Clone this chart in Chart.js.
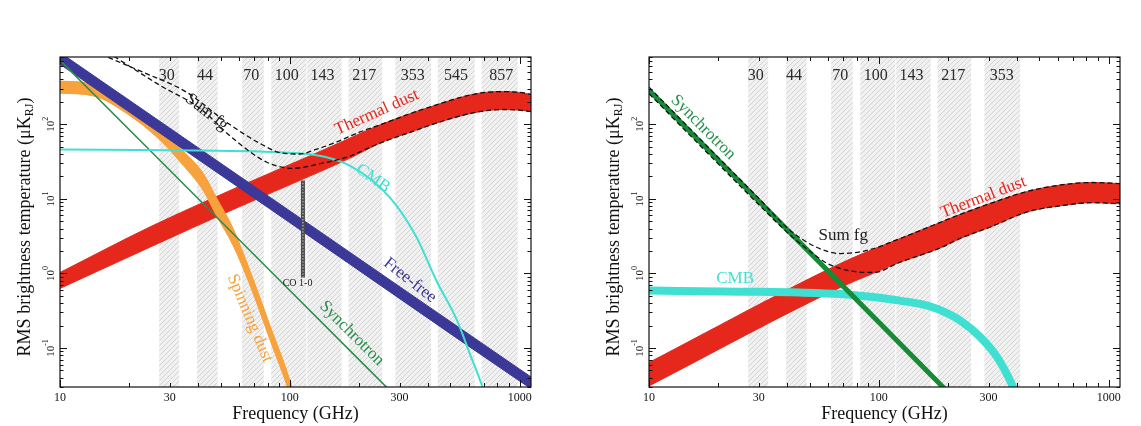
<!DOCTYPE html>
<html>
<head>
<meta charset="utf-8">
<script src="https://cdn.jsdelivr.net/npm/chart.js@4.4.1/dist/chart.umd.min.js"></script>
<style>
  html, body { margin: 0; padding: 0; background: #fff; }
  #wrap { position: relative; width: 1141px; height: 426px; }
  #tempChart { position: absolute; left: 0; top: 0; }
  #polChart { position: absolute; left: 570px; top: 0; }
</style>
</head>
<body>
<div id="wrap">
  <canvas id="tempChart" width="570" height="426"></canvas>
  <canvas id="polChart" width="571" height="426"></canvas>
</div>
<script>
// Planck foreground RMS spectra: temperature (left) and polarisation (right)

// axes
const xTickVals = [10, 30, 100, 300, 1000];
const yTickExps = [2, 1, 0, -1];

// Planck frequency bands (GHz)
const bandNames = ['30', '44', '70', '100', '143', '217', '353', '545', '857'];
const bandFreq = [30, 44, 70, 100, 143, 217, 353, 545, 857];
const bandLo = [27, 39.5, 62, 83, 119, 180, 288, 440, 683];
const bandHi = [33, 48.5, 77, 118, 168, 252, 412, 637, 980];

// ---- temperature panel ----
const dustFreqT = [10, 24.6, 56.6, 130, 182, 250, 353, 406, 500, 670, 850, 1000, 1120];
const dustHiT = [1.03, 4.2, 13.5, 41, 65, 100, 148, 170, 210, 262, 275, 268, 252];
const dustLoT = [0.63, 2.25, 7.2, 22, 35, 57, 83, 97, 119, 148, 158, 155, 148];

const ffFreqT = [10, 100, 1000, 1120];
const ffHiT = [920, 6.9, 0.052, 0.041];
const ffLoT = [640, 4.8, 0.036, 0.0285];

const spinFreqT = [10, 14, 19.5, 27, 34.4, 42, 48, 56.7, 67, 82, 100, 106];
const spinHiT = [380, 350, 202, 91, 44, 22, 10.3, 4.0, 1.1, 0.2, 0.037, 0.019];
const spinLoT = [262, 240, 140, 63, 28, 12.9, 5.9, 2.35, 0.7, 0.128, 0.0235, 0.012];

const syncFreqT = [10, 100, 300];
const syncT = [723, 0.59, 0.02];

const cmbFreqT = [10, 40, 110, 182, 272, 353, 436, 532, 606, 690, 720];
const cmbT = [46, 44.6, 40.8, 28, 10.5, 3.2, 0.78, 0.24, 0.085, 0.0295, 0.019];

const sumHiFreqT = [13, 15.4, 23, 35.6, 53.2, 74, 93, 110, 130, 160, 200, 250, 353, 406, 500, 670, 850, 1000, 1120];
const sumHiT = [1050, 844, 499, 269, 106, 55.6, 41, 40, 46, 58, 78, 100, 148, 170, 210, 262, 275, 268, 252];
const sumLoFreqT = [15, 17.7, 27.2, 40.6, 56.5, 79.4, 103, 131, 180, 250, 353, 406, 500, 670, 850, 1000, 1120];
const sumLoT = [1060, 769, 334, 164, 65, 31, 25.7, 29, 37, 57, 83, 97, 119, 148, 158, 155, 148];

const coFreq = [114, 114];
const coT = [17.7, 0.88];

// ---- polarisation panel ----
const dustFreqP = [10, 68, 92, 124, 185, 226, 306, 443, 620, 850, 1128];
const dustHiP = [0.064, 1.36, 2.04, 2.95, 4.84, 6.2, 8.7, 12.6, 15.4, 16.6, 16.0];
const dustLoP = [0.031, 0.65, 0.97, 1.42, 2.2, 2.95, 4.2, 6.7, 8.1, 8.9, 8.6];

const syncFreqP = [10, 100, 300];
const syncP = [286, 0.222, 0.0072];

const cmbFreqP = [10, 25, 45, 68, 90, 112, 163, 200, 226, 277, 328, 382, 420];
const cmbP = [0.59, 0.57, 0.555, 0.53, 0.49, 0.45, 0.37, 0.29, 0.234, 0.139, 0.0744, 0.031, 0.015];

const sumHiFreqP = [10, 20, 30, 41.1, 53.9, 67.9, 89, 124, 185, 226, 306, 443, 620, 850, 1128];
const sumHiP = [315, 36, 10.2, 3.78, 2.23, 1.85, 2.04, 2.95, 4.84, 6.2, 8.7, 12.6, 15.4, 16.6, 16.0];
const sumLoFreqP = [10, 20, 30, 41, 50, 59.7, 73, 94.7, 124, 185, 226, 306, 443, 620, 850, 1128];
const sumLoP = [258, 29.5, 8.4, 3.3, 2.0, 1.36, 1.1, 1.03, 1.42, 2.2, 2.95, 4.2, 6.7, 8.1, 8.9, 8.6];

const RED = '#e5271c', NAVY = '#3b3898', ORANGE = '#f7a23c', CYAN = '#3fe0d2', GREEN = '#2a8f4f', DKGREEN = '#178a38';
const SERIF = '"Liberation Serif", "DejaVu Serif", serif';

const pts = (fs, ts) => fs.map((f, i) => ({ x: f, y: ts[i] }));
function line(fs, ts, color, width, order, extra) {
  return Object.assign({
    data: pts(fs, ts), borderColor: color, borderWidth: width, pointRadius: 0,
    fill: false, cubicInterpolationMode: 'monotone', order,
  }, extra || {});
}
function band(fs, hi, lo, color, order) {
  return [
    line(fs, hi, color, 1, order),
    line(fs, lo, color, 1, order, { fill: '-1', backgroundColor: color }),
  ];
}
const dashed = { borderDash: [5, 3] };

let hatch = null;
function getHatch(ctx) {
  if (hatch) return hatch;
  const c = document.createElement('canvas');
  c.width = c.height = 5;
  const g = c.getContext('2d');
  g.fillStyle = '#f1f1f1'; g.fillRect(0, 0, 5, 5);
  g.strokeStyle = '#d4d4d4'; g.lineWidth = 1;
  g.beginPath();
  g.moveTo(0, 5); g.lineTo(5, 0);
  g.moveTo(-1, 1); g.lineTo(1, -1);
  g.moveTo(4, 6); g.lineTo(6, 4);
  g.stroke();
  hatch = ctx.createPattern(c, 'repeat');
  return hatch;
}

function drawRotated(ctx, text, px, py, deg, color, size) {
  ctx.save();
  ctx.translate(px, py);
  ctx.rotate(deg * Math.PI / 180);
  ctx.fillStyle = color;
  ctx.font = size + 'px ' + SERIF;
  ctx.textAlign = 'center';
  ctx.textBaseline = 'middle';
  ctx.fillText(text, 0, 0);
  ctx.restore();
}

function makeDecor(nBands, labels) {
  return {
    id: 'decor',
    beforeDatasetsDraw(chart) {
      const { ctx, chartArea: a, scales: { x } } = chart;
      ctx.save();
      ctx.beginPath(); ctx.rect(a.left, a.top, a.right - a.left, a.bottom - a.top); ctx.clip();
      ctx.fillStyle = getHatch(ctx);
      for (let i = 0; i < nBands; i++) {
        const x0 = x.getPixelForValue(bandLo[i]), x1 = x.getPixelForValue(bandHi[i]);
        ctx.fillRect(x0, a.top, x1 - x0, a.bottom - a.top);
      }
      ctx.fillStyle = '#2a2a2a';
      ctx.font = '16px ' + SERIF;
      ctx.textAlign = 'center';
      ctx.textBaseline = 'middle';
      for (let i = 0; i < nBands; i++) {
        ctx.fillText(bandNames[i], x.getPixelForValue(bandFreq[i]) - 3, a.top + 19);
      }
      ctx.restore();
    },
    afterDraw(chart) {
      const { ctx, chartArea: a, scales: { x, y } } = chart;
      ctx.save();
      // curve labels
      labels.forEach(l => drawRotated(ctx, l.text, x.getPixelForValue(l.f), y.getPixelForValue(l.t), l.rot, l.color, l.size || 17));

      // frame and inward ticks
      ctx.strokeStyle = '#111';
      ctx.lineWidth = 1.2;
      ctx.strokeRect(a.left, a.top, a.right - a.left, a.bottom - a.top);
      ctx.lineWidth = 1;
      ctx.beginPath();
      for (let d = 10; d <= 1000; d *= 10) {
        for (let m = 1; m <= 9; m++) {
          const v = d * m;
          if (v > 1120) break;
          const px = Math.round(x.getPixelForValue(v)) + 0.5;
          const len = m === 1 ? 7 : 4;
          ctx.moveTo(px, a.bottom); ctx.lineTo(px, a.bottom - len);
          ctx.moveTo(px, a.top); ctx.lineTo(px, a.top + len);
        }
      }
      for (let d = 0.01; d <= 100; d *= 10) {
        for (let m = 1; m <= 9; m++) {
          const v = d * m;
          if (v < 0.03 || v > 800) continue;
          const py = Math.round(y.getPixelForValue(v)) + 0.5;
          const len = m === 1 ? 7 : 3.5;
          ctx.moveTo(a.left, py); ctx.lineTo(a.left + len, py);
          ctx.moveTo(a.right, py); ctx.lineTo(a.right - len, py);
        }
      }
      ctx.stroke();

      // x tick labels
      ctx.fillStyle = '#111';
      ctx.font = '12px ' + SERIF;
      ctx.textAlign = 'center';
      ctx.textBaseline = 'middle';
      xTickVals.forEach(v => ctx.fillText(String(v), x.getPixelForValue(v), a.bottom + 11));

      // y tick labels: 10^n, rotated
      yTickExps.forEach(e => {
        const py = y.getPixelForValue(Math.pow(10, e));
        ctx.save();
        ctx.translate(a.left - 10, py);
        ctx.rotate(-Math.PI / 2);
        ctx.font = '11px ' + SERIF;
        const w1 = ctx.measureText('10').width;
        ctx.font = '8px ' + SERIF;
        const w2 = ctx.measureText(String(e)).width;
        const x0 = -(w1 + w2) / 2;
        ctx.textAlign = 'left';
        ctx.textBaseline = 'middle';
        ctx.font = '11px ' + SERIF;
        ctx.fillText('10', x0, 1);
        ctx.font = '8px ' + SERIF;
        ctx.fillText(String(e), x0 + w1, -4);
        ctx.restore();
      });

      // axis titles
      ctx.font = '18px ' + SERIF;
      ctx.textAlign = 'center';
      ctx.textBaseline = 'middle';
      ctx.fillText('Frequency (GHz)', (a.left + a.right) / 2, a.bottom + 27);

      ctx.save();
      ctx.translate(a.left - 35, (a.top + a.bottom) / 2 + 5);
      ctx.rotate(-Math.PI / 2);
      const main = 'RMS brightness temperature (\u03bcK';
      ctx.font = '18px ' + SERIF;
      const wm = ctx.measureText(main).width;
      const wp = ctx.measureText(')').width;
      ctx.font = '12px ' + SERIF;
      const ws = ctx.measureText('RJ').width;
      let cx = -(wm + ws + wp) / 2;
      ctx.textAlign = 'left';
      ctx.font = '18px ' + SERIF;
      ctx.fillText(main, cx, 0);
      cx += wm;
      ctx.font = '12px ' + SERIF;
      ctx.fillText('RJ', cx, 5);
      cx += ws;
      ctx.font = '18px ' + SERIF;
      ctx.fillText(')', cx, 0);
      ctx.restore();

      ctx.restore();
    },
  };
}

function makeOptions(padLeft, padRight) {
  return {
    responsive: false,
    animation: false,
    layout: { padding: { left: padLeft, right: padRight, top: 57, bottom: 39 } },
    plugins: { legend: { display: false }, tooltip: { enabled: false } },
    scales: {
      x: { type: 'logarithmic', min: 10, max: 1120, display: false },
      y: { type: 'logarithmic', min: 0.03, max: 800, display: false },
    },
  };
}

const tempLabels = [
  { text: 'Sum fg', f: 43.5, t: 145, rot: 38, color: '#222' },
  { text: 'Thermal dust', f: 239, t: 145, rot: -24, color: RED },
  { text: 'CMB', f: 230, t: 18.8, rot: 35, color: CYAN },
  { text: 'Free-free', f: 333, t: 0.81, rot: 38, color: NAVY },
  { text: 'Synchrotron', f: 186, t: 0.157, rot: 45, color: GREEN },
  { text: 'Spinning dust', f: 67, t: 0.25, rot: 67, color: ORANGE },
  { text: 'CO 1-0', f: 108, t: 0.73, rot: 0, color: '#222', size: 10 },
];

const polLabels = [
  { text: 'Synchrotron', f: 17.2, t: 91, rot: 45, color: GREEN },
  { text: 'Sum fg', f: 70, t: 3.2, rot: 0, color: '#222' },
  { text: 'Thermal dust', f: 285, t: 10.5, rot: -21, color: RED },
  { text: 'CMB', f: 23.7, t: 0.86, rot: 0, color: CYAN },
];

new Chart(document.getElementById('tempChart'), {
  type: 'line',
  data: {
    datasets: [
      ...band(dustFreqT, dustHiT, dustLoT, RED, 10),
      ...band(spinFreqT, spinHiT, spinLoT, ORANGE, 8),
      ...band(ffFreqT, ffHiT, ffLoT, NAVY, 7),
      line(coFreq, coT, '#4a4a4a', 4, 6),
      line(coFreq, coT, '#c8c8c8', 1.5, 5.5, { borderDash: [1, 2] }),
      line(syncFreqT, syncT, GREEN, 1.6, 5),
      line(cmbFreqT, cmbT, CYAN, 2, 4),
      line(sumHiFreqT, sumHiT, '#111', 1.3, 1, dashed),
      line(sumLoFreqT, sumLoT, '#111', 1.3, 1, dashed),
    ],
  },
  options: makeOptions(60, 39),
  plugins: [makeDecor(9, tempLabels)],
});

new Chart(document.getElementById('polChart'), {
  type: 'line',
  data: {
    datasets: [
      ...band(dustFreqP, dustHiP, dustLoP, RED, 10),
      line(cmbFreqP, cmbP, CYAN, 8, 4),
      line(syncFreqP, syncP, DKGREEN, 5, 3),
      line(sumHiFreqP, sumHiP, '#111', 1.3, 1, dashed),
      line(sumLoFreqP, sumLoP, '#111', 1.3, 1, dashed),
    ],
  },
  options: makeOptions(79, 21),
  plugins: [makeDecor(7, polLabels)],
});
</script>
</body>
</html>
